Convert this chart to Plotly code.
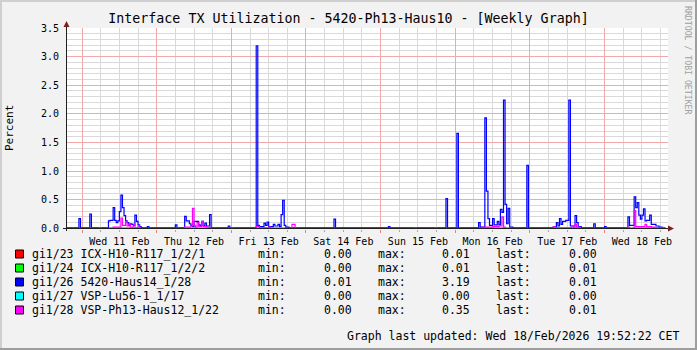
import plotly.graph_objects as go

FONT = "DejaVu Sans Mono"
W, H = 697, 350
ML, MR, MT, MB = 67, 29, 28, 121
PW = W - ML - MR
PH = H - MT - MB


def px(x):
    return (x - ML) / PW


def py(y):
    return (MT + PH - y) / PH


TITLE = "Interface TX Utilization - 5420-Ph13-Haus10 - [Weekly Graph]"
X_START = "2026-02-10 19:10"
X_END = "2026-02-18 20:23"
Y_MAX = 3.5

names = [
    "gi1/23 ICX-H10-R117_1/2/1",
    "gi1/24 ICX-H10-R117_1/2/2",
    "gi1/26 5420-Haus14_1/28",
    "gi1/27 VSP-Lu56-1_1/17",
    "gi1/28 VSP-Ph13-Haus12_1/22",
]
colors = ["#FF0000", "#00FF00", "#0000FF", "#00FFFF", "#FF00FF"]
stat_min = [0.00, 0.00, 0.01, 0.00, 0.00]
stat_max = [0.01, 0.01, 3.19, 0.00, 0.35]
stat_last = [0.00, 0.01, 0.01, 0.00, 0.01]

# change points (time, value) of 30-minute averages; value holds until next point
red_pts = [("02-10 19:00", 0.00), ("02-16 10:00", 0.01), ("02-16 10:30", 0.00), ("02-18 19:30", 0.00)]
green_pts = [("02-10 19:00", 0.00), ("02-11 09:00", 0.01), ("02-11 19:00", 0.00),
             ("02-16 09:00", 0.01), ("02-16 16:30", 0.00), ("02-17 11:00", 0.01),
             ("02-17 16:00", 0.00), ("02-18 09:00", 0.01), ("02-18 19:30", 0.01)]
cyan_pts = [("02-10 19:00", 0.00), ("02-18 19:30", 0.00)]
blue_pts = [
    ("02-10 19:00", 0.01), ("02-10 23:00", 0.17), ("02-10 23:30", 0.01),
    ("02-11 02:30", 0.25), ("02-11 03:00", 0.01),
    ("02-11 08:30", 0.13), ("02-11 09:00", 0.14), ("02-11 10:00", 0.36), ("02-11 10:30", 0.14),
    ("02-11 11:00", 0.10), ("02-11 11:30", 0.13), ("02-11 12:00", 0.29), ("02-11 12:30", 0.58),
    ("02-11 13:00", 0.36), ("02-11 13:30", 0.22), ("02-11 14:00", 0.13), ("02-11 14:30", 0.10),
    ("02-11 15:00", 0.05), ("02-11 15:30", 0.08), ("02-11 16:00", 0.07), ("02-11 16:30", 0.05),
    ("02-11 17:00", 0.23), ("02-11 17:30", 0.12), ("02-11 18:00", 0.06), ("02-11 18:30", 0.03),
    ("02-11 19:00", 0.01), ("02-11 21:00", 0.03), ("02-11 21:30", 0.01),
    ("02-12 06:00", 0.06), ("02-12 06:30", 0.01), ("02-12 09:00", 0.21), ("02-12 09:30", 0.13),
    ("02-12 10:30", 0.08), ("02-12 11:00", 0.05), ("02-12 11:30", 0.03), ("02-12 12:00", 0.12),
    ("02-12 13:30", 0.06), ("02-12 14:00", 0.04), ("02-12 14:30", 0.12), ("02-12 15:00", 0.05),
    ("02-12 15:30", 0.09), ("02-12 16:00", 0.04), ("02-12 17:00", 0.24), ("02-12 17:30", 0.01),
    ("02-12 23:00", 0.04), ("02-12 23:30", 0.01),
    ("02-13 08:00", 3.19), ("02-13 08:30", 0.05), ("02-13 09:00", 0.03), ("02-13 10:30", 0.09),
    ("02-13 11:00", 0.05), ("02-13 11:30", 0.11), ("02-13 12:00", 0.03), ("02-13 13:30", 0.07),
    ("02-13 14:00", 0.04), ("02-13 15:00", 0.07), ("02-13 15:30", 0.03), ("02-13 16:00", 0.24),
    ("02-13 16:30", 0.49), ("02-13 17:00", 0.05), ("02-13 17:30", 0.02), ("02-13 18:30", 0.01),
    ("02-14 09:00", 0.16), ("02-14 09:30", 0.01),
    ("02-15 02:30", 0.03), ("02-15 03:00", 0.01), ("02-15 21:00", 0.52), ("02-15 21:30", 0.01),
    ("02-16 00:30", 1.66), ("02-16 01:00", 0.01), ("02-16 07:30", 0.10), ("02-16 08:00", 0.02),
    ("02-16 09:30", 1.93), ("02-16 10:00", 0.65), ("02-16 10:30", 0.17), ("02-16 11:00", 0.05),
    ("02-16 12:00", 0.17), ("02-16 12:30", 0.06), ("02-16 13:30", 0.12), ("02-16 14:00", 0.06),
    ("02-16 14:30", 0.33), ("02-16 15:00", 0.28), ("02-16 15:30", 2.24), ("02-16 16:00", 0.42),
    ("02-16 16:30", 0.08), ("02-16 17:00", 0.35), ("02-16 17:30", 0.02), ("02-16 18:30", 0.01),
    ("02-16 23:00", 1.10), ("02-16 23:30", 0.01),
    ("02-17 07:30", 0.02), ("02-17 08:30", 0.10), ("02-17 09:00", 0.04), ("02-17 09:30", 0.17),
    ("02-17 10:00", 0.07), ("02-17 10:30", 0.12), ("02-17 11:30", 0.14), ("02-17 12:30", 2.24),
    ("02-17 13:00", 0.04), ("02-17 14:30", 0.22), ("02-17 15:00", 0.10), ("02-17 15:30", 0.03),
    ("02-17 16:30", 0.01), ("02-17 20:30", 0.08), ("02-17 21:00", 0.01),
    ("02-18 00:00", 0.03), ("02-18 00:30", 0.01), ("02-18 07:30", 0.20), ("02-18 08:00", 0.05),
    ("02-18 09:30", 0.55), ("02-18 10:00", 0.36), ("02-18 10:30", 0.45), ("02-18 11:00", 0.23),
    ("02-18 11:30", 0.16), ("02-18 12:00", 0.23), ("02-18 12:30", 0.34), ("02-18 13:00", 0.13),
    ("02-18 13:30", 0.14), ("02-18 14:30", 0.23), ("02-18 15:00", 0.07), ("02-18 16:30", 0.04),
    ("02-18 17:30", 0.02), ("02-18 18:30", 0.01), ("02-18 19:30", 0.01),
]
magenta_pts = [
    ("02-10 19:00", 0.00), ("02-11 05:30", 0.01), ("02-11 06:00", 0.00),
    ("02-11 10:00", 0.02), ("02-11 12:30", 0.18), ("02-11 13:00", 0.05), ("02-11 14:00", 0.12),
    ("02-11 14:30", 0.04), ("02-11 15:00", 0.07), ("02-11 15:30", 0.02), ("02-11 16:30", 0.06),
    ("02-11 17:00", 0.01), ("02-11 18:00", 0.04), ("02-11 18:30", 0.00),
    ("02-12 09:00", 0.02), ("02-12 11:00", 0.04), ("02-12 11:30", 0.35), ("02-12 12:00", 0.05),
    ("02-12 12:30", 0.02), ("02-12 13:00", 0.10), ("02-12 13:30", 0.03), ("02-12 14:30", 0.12),
    ("02-12 15:00", 0.03), ("02-12 16:00", 0.02), ("02-12 17:00", 0.00),
    ("02-13 00:00", 0.01), ("02-13 00:30", 0.00), ("02-13 08:00", 0.03), ("02-13 09:00", 0.01),
    ("02-13 12:00", 0.02), ("02-13 12:30", 0.00), ("02-13 19:30", 0.07), ("02-13 20:30", 0.00),
    ("02-15 11:00", 0.01), ("02-15 11:30", 0.00), ("02-15 17:30", 0.01), ("02-15 18:00", 0.00),
    ("02-16 08:30", 0.02), ("02-16 12:00", 0.03), ("02-16 14:00", 0.04), ("02-16 15:00", 0.20),
    ("02-16 15:30", 0.02), ("02-16 16:00", 0.00),
    ("02-17 07:30", 0.03), ("02-17 08:00", 0.01), ("02-17 13:30", 0.04), ("02-17 14:00", 0.01),
    ("02-17 14:30", 0.07), ("02-17 15:00", 0.02), ("02-17 16:00", 0.00),
    ("02-18 07:30", 0.02), ("02-18 08:00", 0.00), ("02-18 09:30", 0.31), ("02-18 10:00", 0.03),
    ("02-18 13:00", 0.07), ("02-18 13:30", 0.03), ("02-18 15:00", 0.02), ("02-18 16:00", 0.01),
    ("02-18 19:30", 0.01),
]
series_pts = [red_pts, green_pts, blue_pts, cyan_pts, magenta_pts]
draw_order = [3, 0, 1, 2, 4]

GRID = "#D9D9D9"
MGRID = "#F0A8A8"
AXIS = "#1F1F1F"
ARROW = "#801F1F"

fig = go.Figure()
for i in draw_order:
    pts = series_pts[i]
    fig.add_trace(go.Scatter(
        x=["2026-" + t for t, _ in pts], y=[v for _, v in pts],
        mode="lines", line=dict(color=colors[i], width=1.2, shape="hv"),
        name=names[i], showlegend=False, hoverinfo="skip"))

fig.update_layout(
    width=W, height=H, margin=dict(l=ML, r=MR, t=MT, b=MB),
    paper_bgcolor="#F2F2F2", plot_bgcolor="#FFFFFF",
    font=dict(family=FONT, size=10, color="#000000"),
    title=dict(text=TITLE, x=0.5, xref="container", xanchor="center",
               y=1 - 18 / H, yref="container", yanchor="middle",
               font=dict(family=FONT, size=13.3, color="#000000")),
    xaxis=dict(type="date", range=[X_START, X_END], dtick=86400000, tick0="2026-02-11",
               tickformat="%a %d %b", ticklabelmode="period",
               showgrid=True, gridcolor=MGRID, gridwidth=1,
               ticks="outside", ticklen=3, tickcolor="#E08080", zeroline=False, showline=False,
               tickfont=dict(family=FONT, size=10),
               minor=dict(dtick=21600000, tick0="2026-02-11", showgrid=True, gridcolor=GRID,
                          gridwidth=1, ticks="outside", ticklen=2,
                          tickcolor="#A8A8A8")),
    yaxis=dict(range=[-0.012, Y_MAX], dtick=0.5, tick0=0, tickformat=".1f",
               showgrid=True, gridcolor=MGRID, gridwidth=1,
               ticks="", zeroline=False, showline=False, ticklabelstandoff=7,
               tickfont=dict(family=FONT, size=10),
               minor=dict(dtick=0.1, tick0=0, showgrid=True, gridcolor=GRID, gridwidth=1)),
)

shapes = []
# axes
shapes.append(dict(type="line", xref="paper", yref="paper", x0=px(63), x1=px(670),
                   y0=py(228.5), y1=py(228.5), line=dict(color=AXIS, width=1), layer="above"))
shapes.append(dict(type="line", xref="paper", yref="paper", x0=px(66.5), x1=px(66.5),
                   y0=py(231), y1=py(25), line=dict(color=AXIS, width=1), layer="above"))
# arrows
shapes.append(dict(type="path", xref="paper", yref="paper",
                   path=f"M {px(66.5)} {py(21)} L {px(63.5)} {py(27)} L {px(69.5)} {py(27)} Z",
                   fillcolor=ARROW, line=dict(color=ARROW, width=0), layer="above"))
shapes.append(dict(type="path", xref="paper", yref="paper",
                   path=f"M {px(674)} {py(228.5)} L {px(668)} {py(225.5)} L {px(668)} {py(231.5)} Z",
                   fillcolor=ARROW, line=dict(color=ARROW, width=0), layer="above"))
# 3D frame
shapes.append(dict(type="line", xref="paper", yref="paper", x0=px(0), x1=px(W), y0=py(1), y1=py(1),
                   line=dict(color="#CFCFCF", width=2)))
shapes.append(dict(type="line", xref="paper", yref="paper", x0=px(1), x1=px(1), y0=py(0), y1=py(H),
                   line=dict(color="#CFCFCF", width=2)))
shapes.append(dict(type="line", xref="paper", yref="paper", x0=px(0), x1=px(W), y0=py(H - 1), y1=py(H - 1),
                   line=dict(color="#9E9E9E", width=2)))
shapes.append(dict(type="line", xref="paper", yref="paper", x0=px(W - 1), x1=px(W - 1), y0=py(0), y1=py(H),
                   line=dict(color="#9E9E9E", width=2)))

annotations = []
row_y0, row_dy = 254, 14
for i in range(len(names)):
    yc = row_y0 + row_dy * i
    shapes.append(dict(type="rect", xref="paper", yref="paper", x0=px(15.5), x1=px(23.5),
                       y0=py(yc + 4), y1=py(yc - 4), fillcolor=colors[i],
                       line=dict(color="#000000", width=1)))
    for xpos, anchor, txt in [(30, "left", names[i]), (256, "left", "min:"),
                              (354, "right", f"{stat_min[i]:.2f}"), (376, "left", "max:"),
                              (472, "right", f"{stat_max[i]:.2f}"), (494, "left", "last:"),
                              (599, "right", f"{stat_last[i]:.2f}")]:
        annotations.append(dict(xref="paper", yref="paper", x=px(xpos), y=py(yc), text=txt,
                                xanchor=anchor, yanchor="middle", showarrow=False,
                                font=dict(family=FONT, size=11.5, color="#000000")))

annotations.append(dict(xref="paper", yref="paper", x=px(681), y=py(336),
                        text="Graph last updated: Wed 18/Feb/2026 19:52:22 CET",
                        xanchor="right", yanchor="middle", showarrow=False,
                        font=dict(family=FONT, size=11.5, color="#000000")))
annotations.append(dict(xref="paper", yref="paper", x=px(10), y=py(128), text="Percent",
                        textangle=-90, xanchor="center", yanchor="middle", showarrow=False,
                        font=dict(family=FONT, size=11, color="#000000")))
annotations.append(dict(xref="paper", yref="paper", x=px(688), y=py(60),
                        text="RRDTOOL / TOBI OETIKER", textangle=90,
                        xanchor="center", yanchor="middle", showarrow=False,
                        font=dict(family=FONT, size=8.2, color="#A0A0A0")))

fig.update_layout(shapes=shapes, annotations=annotations)
fig.write_html("out.html")
